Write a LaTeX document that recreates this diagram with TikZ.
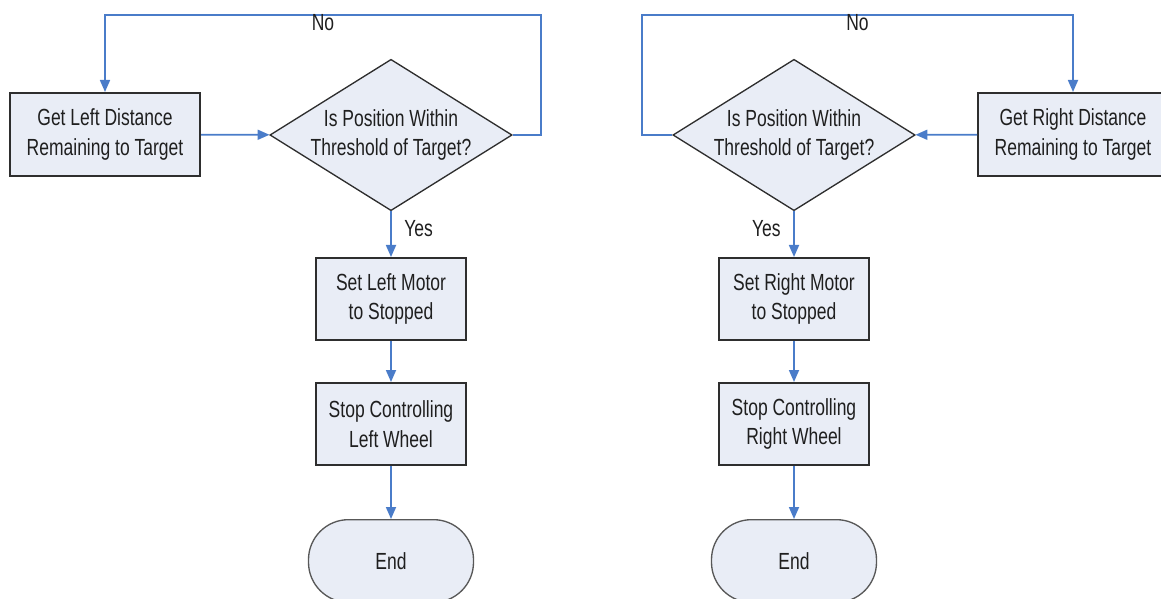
\documentclass[tikz,border=0pt]{standalone}
\usepackage{fontspec}
\setmainfont{Liberation Sans}[FakeStretch=0.75]
\usetikzlibrary{shapes.geometric,arrows.meta}

\definecolor{boxfill}{HTML}{E9EDF6}
\definecolor{flowblue}{HTML}{4A7CC9}
\definecolor{edgegray}{HTML}{2E2E2E}

\tikzset{
  every node/.style={font=\fontsize{17.5}{22}\selectfont, text=black!88},
  stepbox/.style={draw=edgegray, line width=1.5pt, fill=boxfill, align=center,
    minimum width=112.5pt, minimum height=61.5pt, inner sep=0pt},
  getbox/.style={stepbox, minimum width=142.5pt, minimum height=62.25pt},
  decision/.style={diamond, draw=edgegray, line width=1pt, fill=boxfill, align=center,
    aspect=1.6, minimum width=180pt, minimum height=112.5pt, inner sep=0pt},
  endbox/.style={rectangle, rounded corners=30pt, draw=edgegray!80, line width=1pt,
    fill=boxfill, minimum width=123.75pt, minimum height=62pt},
  flow/.style={draw=flowblue, line width=1.3pt, -{Triangle[length=9pt,width=7.5pt]}}
}

\begin{document}
\begin{tikzpicture}[x=0.75pt,y=-0.75pt]
\useasboundingbox (0,0) rectangle (1161,599);

\node[getbox] (getL) at (105,134.5) {Get Left Distance\\Remaining to Target};
\node[decision] (checkL) at (391,135) {Is Position Within\\Threshold of Target?};
\node[stepbox] (stopL) at (391,299) {Set Left Motor\\to Stopped};
\node[stepbox] (ctrlL) at (391,424) {Stop Controlling\\Left Wheel};
\node[endbox] (endL) at (391,561) {End};
\coordinate (loopL) at (541,15);

\node[decision] (checkR) at (794,135) {Is Position Within\\Threshold of Target?};
\node[getbox] (getR) at (1073,134.5) {Get Right Distance\\Remaining to Target};
\node[stepbox] (stopR) at (794,299) {Set Right Motor\\to Stopped};
\node[stepbox] (ctrlR) at (794,424) {Stop Controlling\\Right Wheel};
\node[endbox] (endR) at (794,561) {End};
\coordinate (loopR) at (642,15);

\draw[flow] (getL) -- (checkL);
\draw[flow] (checkL.east) -| (loopL) -| node[pos=0.25, yshift=-5.5pt] {No} (getL.north);
\draw[flow] (checkL) -- node[midway, right=6pt, yshift=4pt] {Yes} (stopL);
\draw[flow] (stopL) -- (ctrlL);
\draw[flow] (ctrlL) -- (endL);

\draw[flow] (getR) -- (checkR);
\draw[flow] (checkR.west) -| (loopR) -| node[pos=0.25, yshift=-5.5pt] {No} (getR.north);
\draw[flow] (checkR) -- node[midway, left=6pt, yshift=4pt] {Yes} (stopR);
\draw[flow] (stopR) -- (ctrlR);
\draw[flow] (ctrlR) -- (endR);
\end{tikzpicture}
\end{document}
